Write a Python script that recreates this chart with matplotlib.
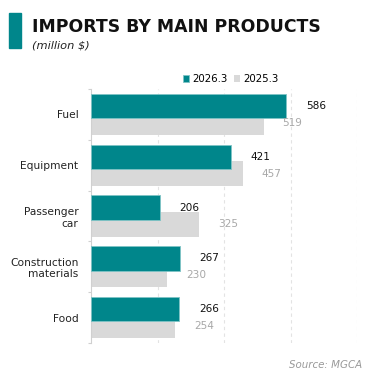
import matplotlib
matplotlib.use("Agg")
import matplotlib.pyplot as plt
from matplotlib.patches import Rectangle
import numpy as np

categorias = ["Fuel", "Equipment", "Passenger\ncar", "Construction\nmaterials", "Food"]
valores_2026 = [586, 421, 206, 267, 266]
valores_2025 = [519, 457, 325, 230, 254]
series = ["2026.3", "2025.3"]

TEAL = "#00868b"
CINZA = "#d9d9d9"
FONTE = "DejaVu Sans"

fig = plt.figure(figsize=(3.75, 3.81), dpi=100)
ax = fig.add_axes([0.2427, 0.0997, 0.7093, 0.6667])

y = np.arange(len(categorias))
altura = 0.48
desloc = 0.165

# barras cinza atrás, teal por cima
ax.barh(y + desloc, valores_2025, height=altura, color=CINZA, zorder=2, label=series[1])
ax.barh(y - desloc, valores_2026, height=altura, color=TEAL, edgecolor="#7fc4c6",
        linewidth=0.6, zorder=3, label=series[0])

for i in range(len(categorias)):
    ax.text(valores_2026[i] + 60, y[i] - desloc, str(valores_2026[i]), va="center",
            ha="left", fontsize=7.6, color="#111111", family=FONTE)
    ax.text(valores_2025[i] + 57, y[i] + desloc, str(valores_2025[i]), va="center",
            ha="left", fontsize=7.6, color="#a8a8a8", family=FONTE)

ax.set_xlim(0, 800)
ax.set_ylim(len(categorias) - 0.5, -0.5)

ax.set_xticks([200, 400, 600, 800])
ax.set_xticklabels([])
ax.tick_params(axis="x", length=0)
ax.grid(axis="x", color="#e3e3e3", linestyle=(0, (3, 3)), linewidth=0.8, zorder=0)

# ticks nas bordas das categorias, rótulos no centro
ax.set_yticks(np.arange(-0.5, len(categorias)), minor=False)
ax.set_yticklabels([])
ax.set_yticks(y, minor=True)
ax.set_yticklabels(categorias, minor=True, fontsize=7.7, family=FONTE, color="#222222")
ax.tick_params(axis="y", which="major", length=2.5, color="#d0d0d0", width=0.8)
ax.tick_params(axis="y", which="minor", length=0, pad=9)

for s in ["top", "right", "bottom"]:
    ax.spines[s].set_visible(False)
ax.spines["left"].set_color("#d0d0d0")
ax.spines["left"].set_linewidth(0.8)

# título
fig.patches.append(Rectangle((9 / 375, 1 - 48 / 381), 12 / 375, 35 / 381,
                             transform=fig.transFigure, color=TEAL))
fig.text(32 / 375, 1 - 27 / 381, "IMPORTS BY MAIN PRODUCTS", fontsize=12.4,
         fontweight="bold", family=FONTE, va="center", ha="left", color="#111111")
fig.text(32 / 375, 1 - 45 / 381, "(million $)", fontsize=8.2, style="italic",
         family=FONTE, va="center", ha="left", color="#222222")

leg = fig.legend(handles=[ax.patches[5], ax.patches[0]], labels=series,
                 loc="center", bbox_to_anchor=(231 / 375, 1 - 79 / 381), ncol=2,
                 frameon=False, handlelength=0.6, handleheight=0.6,
                 handletextpad=0.3, columnspacing=0.6, prop={"family": FONTE, "size": 7.4})

fig.text(362 / 375, 1 - 365 / 381, "Source: MGCA", fontsize=7.4, style="italic",
         family=FONTE, va="center", ha="right", color="#999999")

fig.savefig("out.png", dpi=100)
